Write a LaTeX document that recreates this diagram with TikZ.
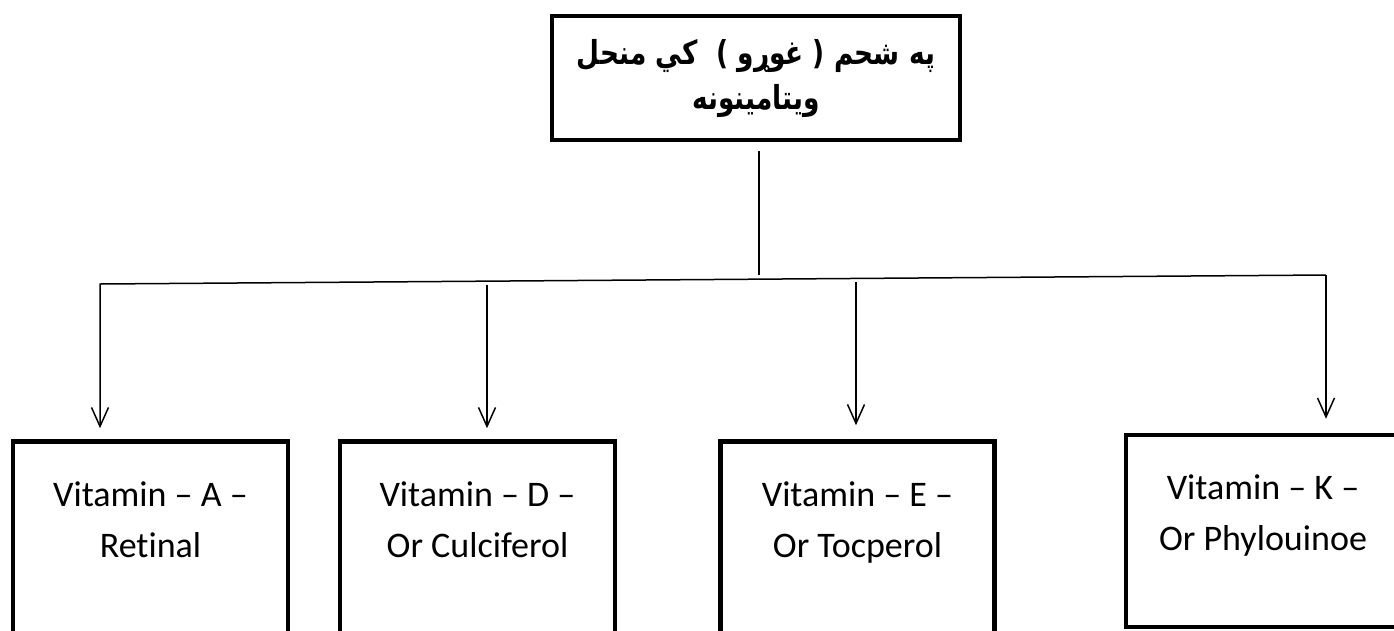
\documentclass[tikz,border=0pt]{standalone}
\usepackage{fontspec}
\setmainfont{Carlito}[Ligatures=NoCommon]
\newfontfamily\arabicfont[Script=Arabic,FakeStretch=0.8]{DejaVu Sans}
\TeXXeTstate=1
\usepackage{tikz}
\usetikzlibrary{arrows.meta,positioning}

\begin{document}
\begin{tikzpicture}[x=1pt,y=-1pt]
    \tikzstyle{titlebox} = [draw, line width=4.5pt, minimum width=408pt, minimum height=124pt, inner sep=0pt, align=center, font=\arabicfont\bfseries\fontsize{33}{45}\selectfont]
    \tikzstyle{vitbox} = [draw, line width=4.5pt, inner sep=0pt]
    \tikzstyle{vittext} = [inner sep=0pt, align=center, font=\fontsize{36}{51}\selectfont]
    \tikzstyle{conn} = [line width=1.5pt]
    \tikzstyle{arr} = [conn, ->, >={Straight Barb[length=19pt,width=17pt]}]

    \useasboundingbox (0,0) rectangle (1394,630);

    \node[titlebox] (title) at (756,78) {\beginR په شحم ( غوړو )\ \ کي منحل\endR\\\beginR ويتامينونه\endR};

    \node[vitbox, minimum width=275pt, minimum height=220pt] (vitA) at (150.5,551.5) {};
    \node[vitbox, minimum width=275pt, minimum height=220pt] (vitD) at (477.5,551.5) {};
    \node[vitbox, minimum width=274pt, minimum height=220pt] (vitE) at (857.5,551.5) {};
    \node[vitbox, minimum width=274pt, minimum height=192pt] (vitK) at (1263,531) {};

    \node[vittext, below=42pt of vitA.north] (txtA) {Vitamin – A –\\Retinal};
    \node[vittext, below=42pt of vitD.north] (txtD) {Vitamin – D –\\Or Culciferol};
    \node[vittext, below=42pt of vitE.north] (txtE) {Vitamin – E –\\Or Tocperol};
    \node[vittext, below=42pt of vitK.north] (txtK) {Vitamin – K –\\Or Phylouinoe};

    % stem and branch line
    \coordinate (stem) at (759,275);
    \coordinate (jL) at (100,284);
    \coordinate (jD) at (487,284.5);
    \coordinate (jE) at (856,282);
    \coordinate (jR) at (1326,275);
    \draw[conn] ([xshift=3pt,yshift=-9pt]title.south) -- (stem);
    \draw[arr, shorten >=11pt] (jR) -- (jL) -- (jL |- vitA.north);
    \draw[arr, shorten >=11pt] (jD) -- (jD |- vitD.north);
    \draw[arr, shorten >=14pt] (jE) -- (jE |- vitE.north);
    \draw[arr, shorten >=14pt] (jR) -- (jR |- vitK.north);
\end{tikzpicture}
\end{document}
